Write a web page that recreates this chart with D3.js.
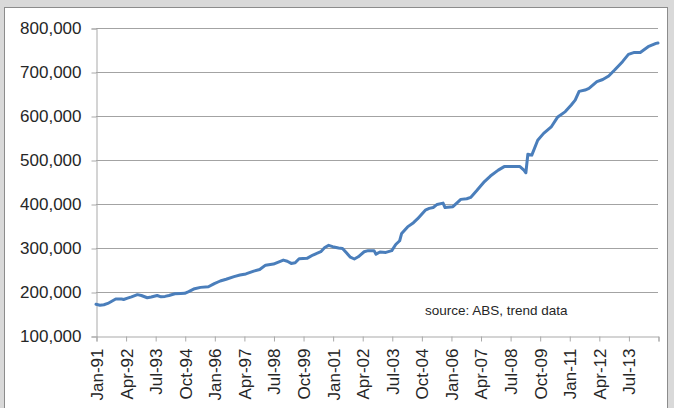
<!DOCTYPE html>
<html>
<head>
<meta charset="utf-8">
<script src="https://cdn.jsdelivr.net/npm/d3@7"></script>
<style>
  html, body { margin: 0; padding: 0; background: #d9d9d9; }
  svg { display: block; }
</style>
</head>
<body>
<svg id="chart" width="674" height="408"></svg>
<script>
// ---- data ----
const months = ["1991-01","1991-03","1991-05","1991-07","1991-09","1991-11","1992-02","1992-03","1992-05","1992-07",
  "1992-10","1992-12","1993-03","1993-05","1993-08","1993-10","1993-12","1994-02","1994-05","1994-08",
  "1994-10","1994-12","1995-03","1995-06","1995-10","1996-01","1996-04","1996-07","1996-11","1997-02",
  "1997-05","1997-09","1997-12","1998-03","1998-07","1998-12","1999-02","1999-04","1999-06","1999-08",
  "1999-12","2000-03","2000-07","2000-09","2000-11","2001-01","2001-04","2001-06","2001-08","2001-10",
  "2001-12","2002-02","2002-05","2002-07","2002-10","2002-11","2003-01","2003-04","2003-07","2003-09",
  "2003-11","2003-12","2004-03","2004-06","2004-08","2004-12","2005-02","2005-04","2005-06","2005-09",
  "2005-10","2006-02","2006-06","2006-09","2006-11","2007-02","2007-06","2007-09","2008-01","2008-04",
  "2008-08","2008-12","2009-02","2009-03","2009-04","2009-06","2009-09","2009-12","2010-04","2010-07",
  "2010-11","2011-02","2011-04","2011-06","2011-09","2011-11","2012-03","2012-06","2012-09","2012-12",
  "2013-04","2013-07","2013-10","2014-01","2014-05","2014-09","2014-10"];
const values = [172000,170000,171000,174000,179000,184000,184000,183000,186000,189000,
  194000,192000,187000,188500,192000,189000,190000,192000,196000,196500,
  197000,201000,207500,210500,212000,219000,225000,229000,235000,238500,
  241000,247500,251000,261000,263500,272500,270000,265000,266500,275500,
  276500,284000,291500,301000,306000,303000,300000,299000,289000,279000,
  275000,280000,291500,294000,294000,286000,291000,290000,294000,308000,
  316500,333000,348000,357500,366000,386000,390000,392000,399000,402000,
  392000,394000,410500,412000,415000,430000,451000,463500,477000,485000,
  485000,485000,477000,471000,513000,511000,545000,560500,576000,597000,
  610000,625000,636000,656000,659000,663000,678000,683000,691000,704500,
  723500,740000,744500,744500,757500,765000,766000];
const tickLabels = ["Jan-91","Apr-92","Jul-93","Oct-94","Jan-96","Apr-97","Jul-98","Oct-99","Jan-01","Apr-02",
  "Jul-03","Oct-04","Jan-06","Apr-07","Jul-08","Oct-09","Jan-11","Apr-12","Jul-13"];
const yTicks = [100000,200000,300000,400000,500000,600000,700000,800000];
const firstMonth = "1991-01";
const lastMonth = "2014-10";
const sourceNote = "source: ABS, trend data";

// ---- helpers ----
function monthIndex(s) {
  const [y, m] = s.split("-").map(Number);
  const [y0, m0] = firstMonth.split("-").map(Number);
  return (y - y0) * 12 + (m - m0);
}
const data = months.map((m, i) => ({ i: monthIndex(m), v: values[i] }));
const nMonths = monthIndex(lastMonth);

const svg = d3.select("#chart");
const W = 674, H = 408;

// chart frame
svg.append("rect").attr("x", 4.5).attr("y", 7.5).attr("width", 663).attr("height", 420)
  .attr("fill", "#ffffff").attr("stroke", "#8c8c8c").attr("stroke-width", 1);

const x = d3.scaleLinear().domain([0, nMonths]).range([96, 658]);
const y = d3.scaleLinear().domain([100000, 800000]).range([336, 28]);

const font = "'Liberation Sans', Arial, sans-serif";

// gridlines
svg.append("g").selectAll("line").data(yTicks.slice(1)).join("line")
  .attr("x1", x(0)).attr("x2", x(nMonths))
  .attr("y1", d => Math.round(y(d)) + 0.5).attr("y2", d => Math.round(y(d)) + 0.5)
  .attr("stroke", "#a3a3a3").attr("stroke-width", 1);

// y axis
const yAxis = svg.append("g").attr("transform", `translate(${x(0) + 0.5},0.5)`)
  .call(d3.axisLeft(y).tickValues(yTicks).tickFormat(d3.format(",")).tickSize(5).tickPadding(10));
yAxis.select(".domain").attr("stroke", "#a9a9a9");
yAxis.selectAll(".tick line").attr("stroke", "#a9a9a9");
yAxis.selectAll("text").attr("font-family", font).attr("font-size", "17px").attr("fill", "#262626");

// x axis
const xTickVals = d3.range(0, nMonths + 1, 15);
const xAxis = svg.append("g").attr("transform", `translate(0.5,${y(100000) + 0.5})`)
  .call(d3.axisBottom(x).tickValues(xTickVals).tickSize(5).tickPadding(7)
    .tickFormat((d, i) => tickLabels[i] || ""));
xAxis.select(".domain").attr("stroke", "#a9a9a9");
xAxis.selectAll(".tick line").attr("stroke", "#a9a9a9");
xAxis.selectAll("text")
  .attr("font-family", font).attr("font-size", "17px").attr("fill", "#262626")
  .attr("transform", "rotate(-90)")
  .attr("text-anchor", "end")
  .attr("x", -12).attr("y", 0).attr("dy", "0.35em");

// line
const line = d3.line().x(d => x(d.i)).y(d => y(d.v));
svg.append("path").datum(data).attr("d", line)
  .attr("fill", "none").attr("stroke", "#4a7ebb").attr("stroke-width", 3)
  .attr("stroke-linejoin", "round").attr("stroke-linecap", "round");

// source note
svg.append("text").attr("x", 425).attr("y", 315)
  .attr("font-family", font).attr("font-size", "13.5px").attr("fill", "#262626")
  .text(sourceNote);
</script>
</body>
</html>
